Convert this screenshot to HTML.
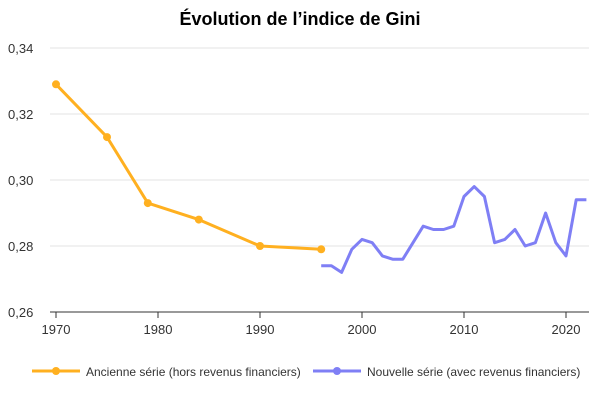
<!DOCTYPE html>
<html><head><meta charset="utf-8"><style>
body{margin:0;background:#fff;font-family:"Liberation Sans",sans-serif}
svg text{font-family:"Liberation Sans",sans-serif}
</style></head><body>
<svg id="chart" width="600" height="400" xmlns="http://www.w3.org/2000/svg">
<text x="300" y="25" text-anchor="middle" font-size="18" font-weight="bold" fill="#000">Évolution de l’indice de Gini</text>
<g id="grid"></g><g id="axes"></g><g id="series"></g>
<g>
<g>
<line x1="32" y1="371" x2="80" y2="371" stroke="#FFB020" stroke-width="3"/><circle cx="56" cy="371" r="4" fill="#FFB020"/>
<text x="86" y="376" font-size="12" fill="#333">Ancienne série (hors revenus financiers)</text></g>
<g>
<line x1="313" y1="371" x2="361" y2="371" stroke="#7F7FF5" stroke-width="3"/><circle cx="337" cy="371" r="4" fill="#7F7FF5"/>
<text x="367" y="376" font-size="12" fill="#333">Nouvelle série (avec revenus financiers)</text></g>
</g>
</svg>
<script>
const oldYears=[1970,1975,1979,1984,1990,1996];
const oldValues=[0.329,0.313,0.293,0.288,0.280,0.279];
const newYears=[1996,1997,1998,1999,2000,2001,2002,2003,2004,2005,2006,2007,2008,2009,2010,2011,2012,2013,2014,2015,2016,2017,2018,2019,2020,2021,2022];
const newValues=[0.274,0.274,0.272,0.279,0.282,0.281,0.277,0.276,0.276,0.281,0.286,0.285,0.285,0.286,0.295,0.298,0.295,0.281,0.282,0.285,0.280,0.281,0.290,0.281,0.277,0.294,0.294];
const yTicks=[0.26,0.28,0.30,0.32,0.34];
const xTicks=[1970,1980,1990,2000,2010,2020];
const NS="http://www.w3.org/2000/svg";
const x=v=>56+(v-1970)*10.2;
const y=v=>312-(v-0.26)*3300;
function mk(tag,attrs,parent){const e=document.createElementNS(NS,tag);for(const k in attrs)e.setAttribute(k,attrs[k]);parent.appendChild(e);return e;}
const grid=document.getElementById('grid'),axes=document.getElementById('axes'),ser=document.getElementById('series');
yTicks.forEach(t=>{
 if(t>0.26){const l=mk('line',{x1:50,x2:589,y1:y(t),y2:y(t),stroke:'#e3e3e3','stroke-width':1},grid);
 
 }
 const tx=mk('text',{x:8,y:y(t)+5,'font-size':13,fill:'#333'},axes);tx.textContent=t.toFixed(2).replace('.',',');
 
 
});
const ax=mk('line',{x1:50,x2:589,y1:312,y2:312,stroke:'#333','stroke-width':1},axes);


xTicks.forEach(t=>{
 mk('line',{x1:x(t),x2:x(t),y1:312,y2:318,stroke:'#333'},axes);
 const tx=mk('text',{x:x(t),y:334,'font-size':13,fill:'#333','text-anchor':'middle'},axes);tx.textContent=t;
 
 
});
function line(xs,vs,color,name,dots){
 const p=mk('polyline',{points:xs.map((a,i)=>x(a)+','+y(vs[i])).join(' '),fill:'none',stroke:color,'stroke-width':3,'stroke-linejoin':'round'},ser);
 
 
 if(dots)xs.forEach((a,i)=>{const c=mk('circle',{cx:x(a),cy:y(vs[i]),r:4,fill:color},ser);
 
 });
}
line(oldYears,oldValues,'#FFB020','ancienne-serie-line',true);
line(newYears,newValues,'#7F7FF5','nouvelle-serie-line',false);
</script>
</body></html>
